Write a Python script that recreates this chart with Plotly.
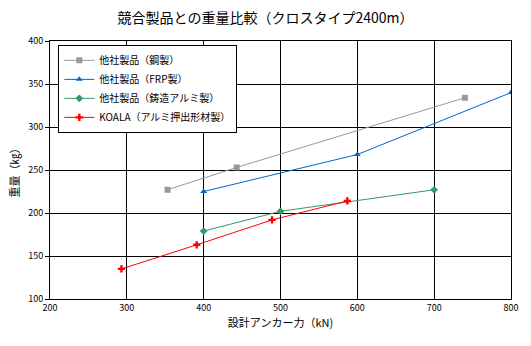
import plotly.graph_objects as go

# data
steel_x = [353, 443, 740]
steel_y = [227, 253, 334]
frp_x = [400, 600, 800]
frp_y = [225, 268, 340]
cast_x = [400, 500, 700]
cast_y = [179, 202, 227]
koala_x = [293, 391, 489, 587]
koala_y = [135, 163, 192, 214]

names = ["他社製品（鋼製）", "他社製品（FRP製）", "他社製品（鋳造アルミ製）", "KOALA（アルミ押出形材製）"]
colors = ["#999999", "#0066CC", "#339966", "#FF0000"]
symbols = ["square", "triangle-up", "diamond", "cross"]
sizes = [6, 6, 6, 6]

font = "Noto Sans CJK JP"
fig = go.Figure()
for xs, ys, n, c, s, sz in zip([steel_x, frp_x, cast_x, koala_x],
                               [steel_y, frp_y, cast_y, koala_y], names, colors, symbols, sizes):
    fig.add_trace(go.Scatter(x=xs, y=ys, name=n, mode="lines+markers",
                             line=dict(color=c, width=1),
                             marker=dict(color=c, symbol=s, size=sz)))

fig.update_layout(
    width=531, height=346,
    margin=dict(l=50, r=20, t=41, b=47),
    paper_bgcolor="white", plot_bgcolor="white",
    font=dict(family=font, size=10, color="black"),
    title=dict(text="競合製品との重量比較（クロスタイプ2400m）", x=0.5, xanchor="center",
               y=0.948, yanchor="middle", font=dict(size=14, family=font)),
    showlegend=True,
    legend=dict(x=0.018, y=0.985, xanchor="left", yanchor="top",
                bordercolor="black", borderwidth=1, bgcolor="white",
                font=dict(size=10, family=font), tracegroupgap=4,
                itemwidth=30),
    xaxis=dict(range=[200, 800], dtick=100, showgrid=True, gridcolor="black", gridwidth=1,
               showline=True, linecolor="black", mirror=True, zeroline=False,
               ticks="", tickfont=dict(size=9),
               title=dict(text="設計アンカー力（kN)", font=dict(size=11), standoff=6)),
    yaxis=dict(range=[100, 400], dtick=50, showgrid=True, gridcolor="black", gridwidth=1,
               showline=True, linecolor="black", mirror=True, zeroline=False,
               ticks="outside", ticklen=4, tickcolor="black", tickfont=dict(size=9),
               title=dict(text="重量（㎏）", font=dict(size=11), standoff=6)),
)
fig.write_html("out.html")
